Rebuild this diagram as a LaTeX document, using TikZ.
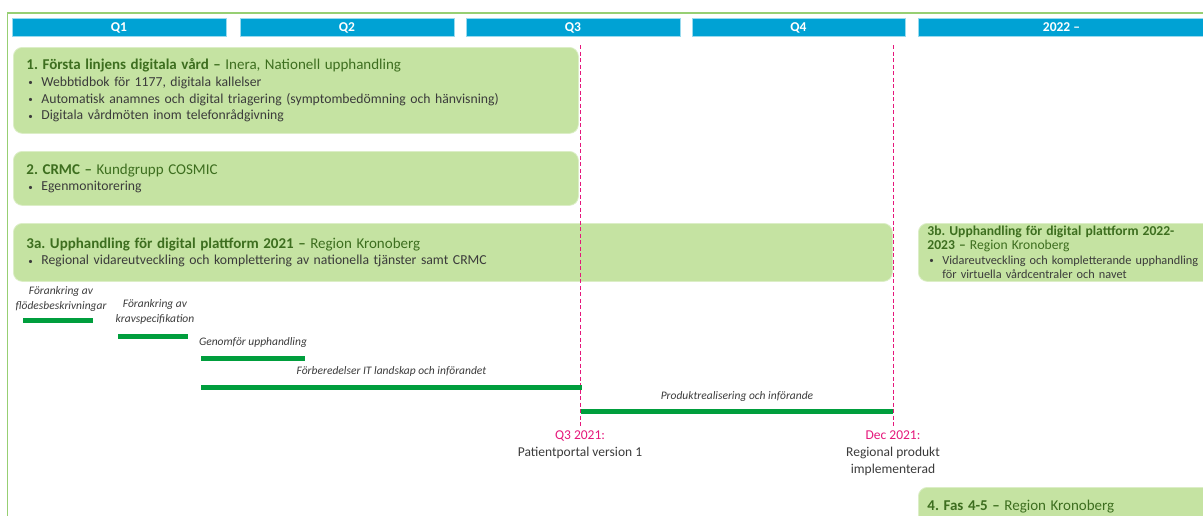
\documentclass[tikz,border=0pt]{standalone}
\usepackage{fontspec}
\setmainfont{Carlito}
\usetikzlibrary{positioning}

\definecolor{kvartalbla}{HTML}{00A2D4}
\definecolor{rutgron}{HTML}{C5E3A2}
\definecolor{rubrikgron}{HTML}{3D6E1F}
\definecolor{brodtext}{HTML}{3B3B3B}
\definecolor{stapelgron}{HTML}{009E3D}
\definecolor{milstolpe}{HTML}{E5177B}
\definecolor{ramgron}{HTML}{97CF73}

% punkt i listor och rubrikrad i rutorna
\newcommand{\pkt}{\makebox[15pt][l]{\hspace{2pt}\raisebox{0.5pt}{\fontsize{9}{9}\selectfont\textbullet}}}
\newcommand{\rubrik}[2]{{\fontsize{15}{16.7}\selectfont\color{rubrikgron}\textbf{#1} #2}}
\frenchspacing

\begin{document}
\begin{tikzpicture}[x=1pt, y=-1pt,
  kvartal/.style={fill=kvartalbla, draw=kvartalbla!40, line width=0.6pt, minimum height=18pt, inner sep=0pt, text=white, font=\fontsize{13.5}{15}\selectfont\bfseries},
  ruta/.style={fill=rutgron, draw=rutgron!60!white, line width=0.8pt, rounded corners=9pt, anchor=north west, align=left, inner xsep=13pt, inner ysep=0pt, text=brodtext, font=\fontsize{13.7}{16.7}\selectfont},
  aktivitet/.style={draw=stapelgron, line width=5pt},
  fas/.style={font=\fontsize{11.5}{15.5}\selectfont\itshape, text=brodtext, align=center, inner sep=1pt},
  tidslinje/.style={draw=milstolpe, line width=1pt, dash pattern=on 4pt off 2.5pt},
  milstolpetext/.style={anchor=north, align=center, text=brodtext, inner sep=2pt, font=\fontsize{13.5}{17}\selectfont}]
\useasboundingbox (0,0) rectangle (1203,515);

% ram
\draw[ramgron, line width=1.5pt] (7.5,525) -- (7.5,13) -- (1215,13);

% kvartal
\node[kvartal, minimum width=214pt] (q1) at (119,27.5) {Q1};
\node[kvartal, minimum width=214pt] (q2) at (347,27.5) {Q2};
\node[kvartal, minimum width=214pt] (q3) at (573,27.5) {Q3};
\node[kvartal, minimum width=213pt] (q4) at (798.5,27.5) {Q4};
\node[kvartal, minimum width=287pt] (ar2022) at (1061.5,27.5) {2022 --};

% delprojekt
\node[ruta, minimum width=565pt, minimum height=86pt, text width=539pt] (fas1) at (13,47) {%
  \rubrik{1. Första linjens digitala vård --}{Inera, Nationell upphandling}\\
  \pkt Webbtidbok för 1177, digitala kallelser\\
  \pkt Automatisk anamnes och digital triagering (symptombedömning och hänvisning)\\
  \pkt Digitala vårdmöten inom telefonrådgivning};
\node[ruta, minimum width=565pt, minimum height=54pt, text width=539pt] (fas2) at (13,151) {%
  \rubrik{2. CRMC --}{Kundgrupp COSMIC}\\
  \pkt Egenmonitorering};
\node[ruta, minimum width=879pt, minimum height=58pt, text width=853pt] (fas3a) at (13,223) {%
  \rubrik{3a. Upphandling för digital plattform 2021 --}{Region Kronoberg}\\
  \pkt Regional vidareutveckling och komplettering av nationella tjänster samt CRMC};
\node[ruta, minimum width=340pt, minimum height=58pt, inner xsep=9pt, text width=322pt,
  font=\fontsize{12.3}{14.5}\selectfont] (fas3b) at (918,223) {%
  {\fontsize{13.6}{16}\selectfont\color{rubrikgron}\textbf{3b. Upphandling för digital plattform 2022-}}\\
  {\fontsize{13.6}{16}\selectfont\color{rubrikgron}\textbf{2023 --} Region Kronoberg}\\
  \pkt Vidareutveckling och kompletterande upphandling\\
  \hspace*{15pt}för virtuella vårdcentraler och navet};
\node[ruta, minimum width=340pt, minimum height=38pt, inner xsep=9pt, text width=322pt] (fas4) at (918,487) {%
  \rubrik{4. Fas 4-5 --}{Region Kronoberg}};

% milstolpar
\coordinate (q3topp) at (580,45);
\coordinate (dectopp) at (893,45);
\node[milstolpetext] (q3ms) at (580,429) {\textcolor{milstolpe}{Q3 2021:}\\Patientportal version 1};
\node[milstolpetext] (decms) at (893,429) {\textcolor{milstolpe}{Dec 2021:}\\Regional produkt\\implementerad};
\draw[tidslinje, shorten >=3pt] (q3topp) -- (q3ms.north);
\draw[tidslinje, shorten >=3pt] (dectopp) -- (decms.north);

% aktiviteter
\draw[aktivitet] (23,320) -- node[fas, above=5pt, xshift=3pt] {Förankring av\\flödesbeskrivningar} (93,320);
\draw[aktivitet] (118,336) -- node[fas, above=8pt, xshift=2pt] {Förankring av\\kravspecifikation} (188,336);
\draw[aktivitet] (201,358) -- node[fas, above=7pt] {Genomför upphandling} (305,358);
\draw[aktivitet] (201,387) -- node[fas, above=7pt] {Förberedelser IT landskap och införandet} (582,387);
\draw[aktivitet] (581,411) -- node[fas, above=6pt] {Produktrealisering och införande} (893,411);
\end{tikzpicture}
\end{document}
